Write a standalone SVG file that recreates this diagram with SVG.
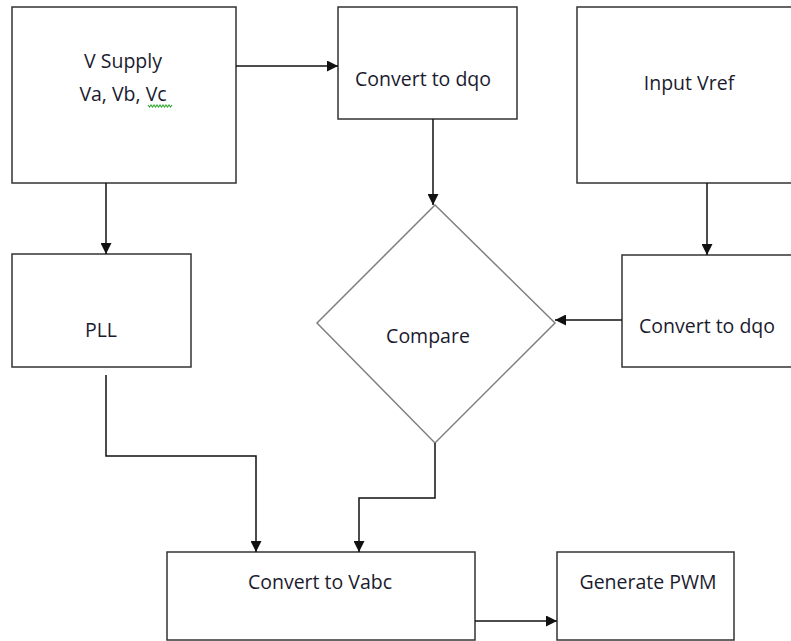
<svg xmlns="http://www.w3.org/2000/svg" width="791" height="641" viewBox="0 0 791 641">
<defs>
<style>
.box{fill:#fff;stroke:#333;stroke-width:1.5}
.dia{fill:#fff;stroke:#7f7f7f;stroke-width:1.5}
.lbl{font-family:"Open Sans","Liberation Sans",sans-serif;font-size:19.5px;fill:#1b1b2e;text-anchor:middle}
.con{fill:none;stroke:#111;stroke-width:1.5}
</style>
<marker id="ah" viewBox="0 0 10 10" refX="10" refY="5" markerWidth="11" markerHeight="11" markerUnits="userSpaceOnUse" orient="auto">
<path d="M0,0 L10,5 L0,10 z" fill="#111"/>
</marker>
</defs>
<rect width="791" height="641" fill="#fff"/>
<g id="vsupply">
<rect class="box" x="12" y="7" width="224" height="176"/>
<text class="lbl" x="123" y="68">V Supply</text>
<text class="lbl" x="123" y="101">Va, Vb, Vc</text>
<path d="M148,105 l1.5,2 l1.5,-2 l1.5,2 l1.5,-2 l1.5,2 l1.5,-2 l1.5,2 l1.5,-2 l1.5,2 l1.5,-2 l1.5,2 l1.5,-2 l1.5,2 l1.5,-2 l1.5,2 l1.5,-2" fill="none" stroke="#3a3" stroke-width="1.1"/>
</g>
<g id="dqo1">
<rect class="box" x="338" y="7" width="179" height="112"/>
<text class="lbl" x="423" y="86">Convert to dqo</text>
</g>
<g id="vref">
<rect class="box" x="577" y="7" width="240" height="176"/>
<text class="lbl" x="689" y="90">Input Vref</text>
</g>
<g id="pll">
<rect class="box" x="12" y="254" width="179" height="113"/>
<text class="lbl" x="101" y="337">PLL</text>
</g>
<g id="compare">
<polygon class="dia" points="435,205 555,323 435,443 317,323"/>
<text class="lbl" x="428" y="343">Compare</text>
</g>
<g id="dqo2">
<rect class="box" x="622" y="255" width="200" height="112"/>
<text class="lbl" x="707" y="333">Convert to dqo</text>
</g>
<g id="vabc">
<rect class="box" x="167" y="552" width="308" height="88"/>
<text class="lbl" x="320" y="589">Convert to Vabc</text>
</g>
<g id="pwm">
<rect class="box" x="557" y="552" width="177" height="88"/>
<text class="lbl" x="648" y="589">Generate PWM</text>
</g>
<g id="connectors">
<path class="con" d="M236,66 H338" marker-end="url(#ah)"/>
<path class="con" d="M106,183 V254" marker-end="url(#ah)"/>
<path class="con" d="M433,119 V205" marker-end="url(#ah)"/>
<path class="con" d="M707,183 V255" marker-end="url(#ah)"/>
<path class="con" d="M622,320 H555" marker-end="url(#ah)"/>
<path class="con" d="M106,375 V456 H256 V552" marker-end="url(#ah)"/>
<path class="con" d="M435,443 V498 H359 V552" marker-end="url(#ah)"/>
<path class="con" d="M475,621 H557" marker-end="url(#ah)"/>
</g>
</svg>
